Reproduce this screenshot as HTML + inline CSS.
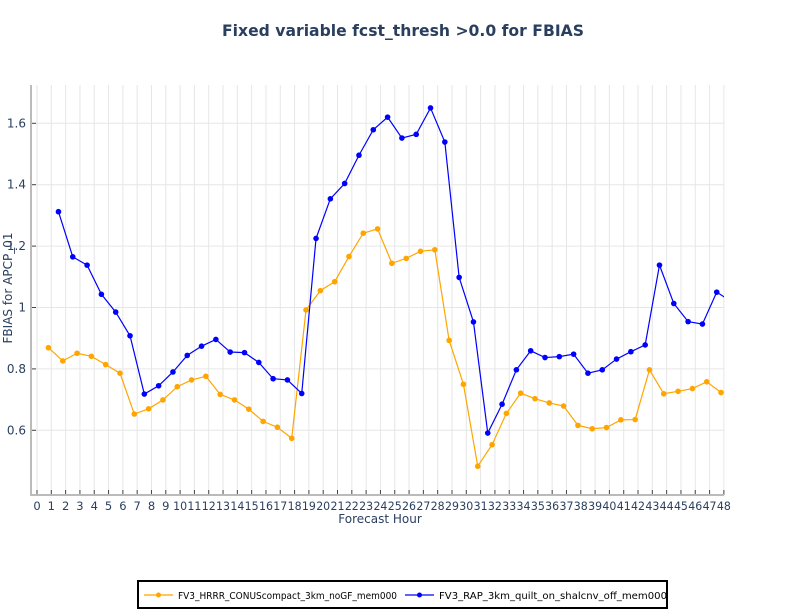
<!DOCTYPE html>
<html><head><meta charset="utf-8"><style>
body{margin:0;background:#fff;font-family:"DejaVu Sans",sans-serif}
svg text{font-family:"DejaVu Sans","Liberation Sans",sans-serif}
</style></head><body>
<svg id="chart" width="792" height="612" viewBox="0 0 792 612">
<text x="222" y="36" textLength="362" lengthAdjust="spacingAndGlyphs" font-size="16" font-weight="bold" fill="#2a3f5f">Fixed variable fcst_thresh &gt;0.0 for FBIAS</text>
<g id="grid"></g>
<defs><clipPath id="clip"><rect x="31" y="85" width="693" height="410"/></clipPath></defs>
<g id="series" clip-path="url(#clip)"></g>
<g id="axes"></g>
<text x="380" y="523" text-anchor="middle" font-size="12" fill="#2a3f5f">Forecast Hour</text>
<text transform="translate(12,288) rotate(-90)" text-anchor="middle" font-size="12" fill="#2a3f5f">FBIAS for APCP_01</text>
<g>
<rect x="138" y="581" width="529" height="27" fill="#fff" stroke="#000" stroke-width="2"/>
<g>
<line x1="144" y1="595" x2="173" y2="595" stroke="orange" stroke-width="1.3"/><circle cx="158.5" cy="595" r="2.5" fill="orange"/>
<text x="178" y="599" font-size="10" textLength="219" lengthAdjust="spacingAndGlyphs" fill="#000">FV3_HRRR_CONUScompact_3km_noGF_mem000</text></g>
<g>
<line x1="405" y1="595" x2="434" y2="595" stroke="blue" stroke-width="1.3"/><circle cx="419.5" cy="595" r="2.5" fill="blue"/>
<text x="439" y="599" font-size="10" textLength="228" lengthAdjust="spacingAndGlyphs" fill="#000">FV3_RAP_3km_quilt_on_shalcnv_off_mem000</text></g>
</g>
</svg>
<script>
const hours=[1,2,3,4,5,6,7,8,9,10,11,12,13,14,15,16,17,18,19,20,21,22,23,24,25,26,27,28,29,30,31,32,33,34,35,36,37,38,39,40,41,42,43,44,45,46,47,48];
const hrrrValues=[0.869,0.826,0.851,0.841,0.814,0.786,0.653,0.670,0.699,0.742,0.764,0.776,0.717,0.699,0.669,0.629,0.610,0.574,0.992,1.055,1.084,1.166,1.242,1.256,1.144,1.160,1.183,1.188,0.893,0.750,0.483,0.553,0.655,0.721,0.703,0.689,0.679,0.616,0.605,0.609,0.634,0.635,0.797,0.719,0.727,0.736,0.758,0.723];
const rapValues=[1.312,1.165,1.138,1.043,0.985,0.908,0.718,0.745,0.790,0.844,0.874,0.896,0.855,0.853,0.821,0.768,0.764,0.720,1.225,1.354,1.404,1.496,1.579,1.620,1.552,1.564,1.650,1.539,1.098,0.953,0.591,0.685,0.797,0.859,0.837,0.840,0.848,0.786,0.797,0.832,0.856,0.878,1.138,1.013,0.954,0.946,1.050,1.020];
const xTicks=[0,1,2,3,4,5,6,7,8,9,10,11,12,13,14,15,16,17,18,19,20,21,22,23,24,25,26,27,28,29,30,31,32,33,34,35,36,37,38,39,40,41,42,43,44,45,46,47,48];
const yTicks=[0.6,0.8,1,1.2,1.4,1.6];
const yLabels=["0.6","0.8","1","1.2","1.4","1.6"];
const NS="http://www.w3.org/2000/svg";
function xs(h){return 37+h*14.31;}
function ys(v){return 307.5-(v-1)*307;}
function mk(tag,attrs,parent){const e=document.createElementNS(NS,tag);for(const k in attrs)e.setAttribute(k,attrs[k]);parent.appendChild(e);return e;}
const grid=document.getElementById('grid'),axes=document.getElementById('axes'),series=document.getElementById('series');
xTicks.forEach(t=>{
 const g=mk('line',{x1:xs(t),x2:xs(t),y1:85,y2:495,stroke:'#e6e6e6','stroke-width':1},grid);
 
 
 const tk=mk('line',{x1:xs(t),x2:xs(t),y1:490,y2:495,stroke:'#444','stroke-width':1},axes);
 
 
 const tx=mk('text',{x:xs(t),y:510,'text-anchor':'middle','font-size':11.5,fill:'#2a3f5f'},axes);
 tx.textContent=t;
 if(t>=10){tx.setAttribute('textLength','14');tx.setAttribute('lengthAdjust','spacingAndGlyphs');}
 
 
});
yTicks.forEach((t,i)=>{
 const g=mk('line',{x1:31,x2:724,y1:ys(t),y2:ys(t),stroke:'#e6e6e6','stroke-width':1},grid);
 
 
 const tk=mk('line',{x1:31,x2:36,y1:ys(t),y2:ys(t),stroke:'#444','stroke-width':1},axes);
 
 
 const tx=mk('text',{x:26,y:ys(t)+4,'text-anchor':'end','font-size':12,fill:'#2a3f5f'},axes);
 tx.textContent=yLabels[i];
 
 
});
const ax=mk('line',{x1:31,x2:31,y1:85,y2:495,stroke:'#bbb','stroke-width':2},axes);


const bx=mk('line',{x1:30,x2:724,y1:495,y2:495,stroke:'#bbb','stroke-width':2},axes);


function draw(vals,off,color,name){
 const pts=hours.map((h,i)=>xs(h+off)+','+ys(vals[i])).join(' ');
 const pl=mk('polyline',{points:pts,fill:'none',stroke:color,'stroke-width':1.2},series);
 
 
 hours.forEach((h,i)=>{
  const c=mk('circle',{cx:xs(h+off),cy:ys(vals[i]),r:2.8,fill:color},series);
  
  
 });
}
draw(hrrrValues,-0.2,'orange','hrrr');
draw(rapValues,0.5,'blue','rap');
</script>
</body></html>
